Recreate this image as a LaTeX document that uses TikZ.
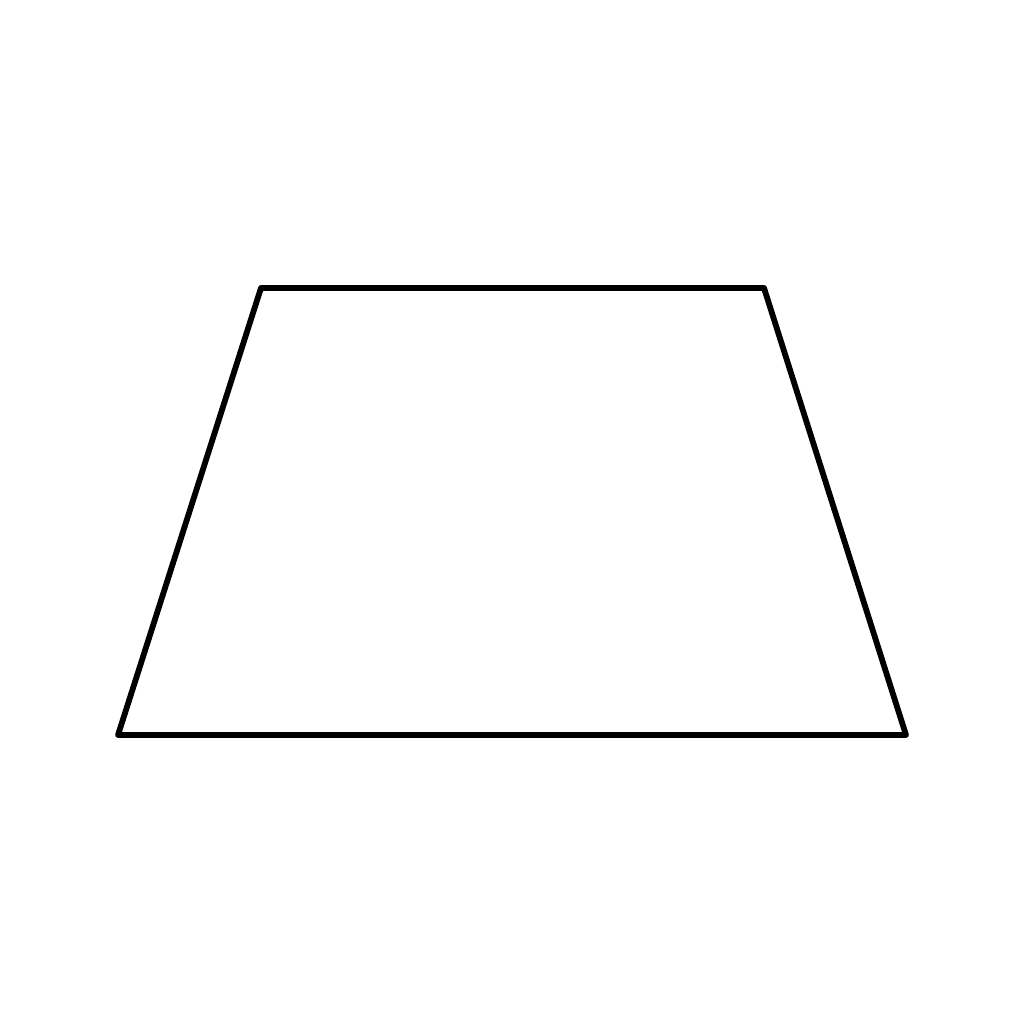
\documentclass[tikz,border=0pt]{standalone}
\begin{document}
\begin{tikzpicture}[x=0.01cm,y=-0.01cm,edge/.style={line width=0.058cm,line join=round,line cap=round}]
\useasboundingbox (0,0) rectangle (1024,1024);
\coordinate (tl) at (261,288);
\coordinate (tr) at (764,288);
\coordinate (br) at (906,735);
\coordinate (bl) at (118,735);
\draw[edge] (tl) -- (tr) -- (br) -- (bl) -- cycle;
\end{tikzpicture}
\end{document}
